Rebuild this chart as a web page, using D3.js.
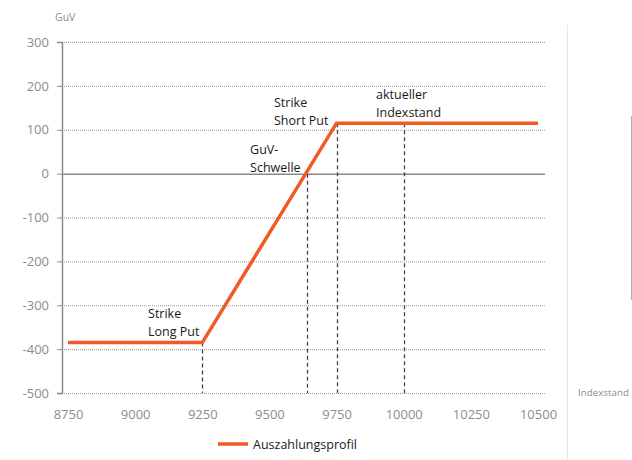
<!DOCTYPE html>
<html>
<head>
<meta charset="utf-8">
<script src="https://cdn.jsdelivr.net/npm/d3@7"></script>
<style>
  html, body { margin: 0; padding: 0; background: #fff; }
  svg { display: block; }
</style>
</head>
<body>
<svg id="chart" width="632" height="460"></svg>
<script>
// Payoff profile of a bull put spread
const profileX = [8750, 9250, 9750, 10500];
const profileY = [-385, -385, 115, 115];

const xTicks = [8750, 9000, 9250, 9500, 9750, 10000, 10250, 10500];
const yTicks = [300, 200, 100, 0, -100, -200, -300, -400, -500];

// Reference levels with dashed drop lines
const markerX = [9250, 9640, 9750, 10000];
const markerY = [-385, 0, 115, 115];

// Annotation labels (two lines each), anchored at data coordinates
const noteLines = [["Strike", "Long Put"], ["GuV-", "Schwelle"], ["Strike", "Short Put"], ["aktueller", "Indexstand"]];
const noteX = [9048, 9428, 9517, 9897];
const noteY = [-329, 44, 152, 170];

const seriesName = "Auszahlungsprofil";
const yTitle = "GuV";
const xTitle = "Indexstand";

const svg = d3.select("#chart");
const font = "'Open Sans', 'Liberation Sans', sans-serif";
const orange = "#f05a24";
const axisGrey = "#8c8c8c";
const plain = d => String(d);

const plotLeft = 62, plotRight = 545, plotTop = 42, plotBottom = 393;
const x = d3.scaleLinear().domain([8750, 10500]).range([68, 538]);
const y = d3.scaleLinear().domain([-500, 300]).range([plotBottom, plotTop]);

// Horizontal dotted gridlines
svg.append("g").selectAll("line").data(yTicks.filter(v => v !== 0)).join("line")
  .attr("x1", plotLeft).attr("x2", plotRight)
  .attr("y1", d => y(d) + 0.5).attr("y2", d => y(d) + 0.5)
  .attr("stroke", "#9a9a9a").attr("stroke-width", 1)
  .attr("stroke-dasharray", "1,1");

// Zero line (solid)
svg.append("line")
  .attr("x1", plotLeft).attr("x2", plotRight)
  .attr("y1", y(0) + 0.5).attr("y2", y(0) + 0.5)
  .attr("stroke", "#8a8a8a").attr("stroke-width", 1.5);

// Y axis
const yAxis = d3.axisLeft(y).tickValues(yTicks).tickSize(5).tickPadding(8).tickFormat(plain);
const gy = svg.append("g").attr("transform", `translate(${plotLeft},0)`).call(yAxis);
gy.select(".domain").attr("stroke", "#8a8a8a").attr("stroke-width", 1.5);
gy.selectAll(".tick line").attr("stroke", "#8a8a8a");
gy.selectAll(".tick text").attr("fill", axisGrey).attr("font-family", font).attr("font-size", 13);

// X axis labels (no axis line, below the -500 gridline)
const xAxis = d3.axisBottom(x).tickValues(xTicks).tickSize(0).tickPadding(17).tickFormat(plain);
const gx = svg.append("g").attr("transform", `translate(0,${plotBottom})`).call(xAxis);
gx.select(".domain").remove();
gx.selectAll(".tick text").attr("fill", axisGrey).attr("font-family", font).attr("font-size", 13);

// Dashed drop lines
svg.append("g").selectAll("line").data(markerX).join("line")
  .attr("x1", d => Math.round(x(d)) + 0.5).attr("x2", d => Math.round(x(d)) + 0.5)
  .attr("y1", (d, i) => y(markerY[i])).attr("y2", plotBottom)
  .attr("stroke", "#444").attr("stroke-width", 1.3)
  .attr("stroke-dasharray", "4,3");

// Payoff line
const line = d3.line().x(d => x(d[0])).y(d => y(d[1]));
svg.append("path")
  .datum(profileX.map((v, i) => [v, profileY[i]]))
  .attr("d", line)
  .attr("fill", "none").attr("stroke", orange).attr("stroke-width", 3.5)
  .attr("stroke-linejoin", "miter");

// Annotations
const notes = svg.append("g");
noteLines.forEach((lines, i) => {
  const t = notes.append("text")
    .attr("x", x(noteX[i])).attr("y", y(noteY[i]))
    .attr("font-family", font).attr("font-size", 12.5).attr("fill", "#1a1a1a");
  lines.forEach((s, j) => t.append("tspan").attr("x", x(noteX[i])).attr("dy", j === 0 ? 0 : 18).text(s));
});

// Axis titles
svg.append("text").attr("x", 55).attr("y", 21).text(yTitle)
  .attr("font-family", font).attr("font-size", 10.5).attr("fill", axisGrey);
svg.append("text").attr("x", 578).attr("y", 396).text(xTitle)
  .attr("font-family", font).attr("font-size", 9.8).attr("fill", axisGrey);

// Panel separators on the right
svg.append("line").attr("x1", 567.5).attr("x2", 567.5).attr("y1", 25).attr("y2", 460)
  .attr("stroke", "#e6e6e6").attr("stroke-width", 1);
svg.append("line").attr("x1", 631.5).attr("x2", 631.5).attr("y1", 116).attr("y2", 300)
  .attr("stroke", "#b0b0b0").attr("stroke-width", 1);

// Legend
const lg = svg.append("g").attr("transform", "translate(218,444)");
lg.append("line").attr("x1", 0).attr("x2", 30).attr("y1", 0).attr("y2", 0)
  .attr("stroke", orange).attr("stroke-width", 3.5);
lg.append("text").attr("x", 35).attr("y", 4.5).text(seriesName)
  .attr("font-family", font).attr("font-size", 12.5).attr("fill", "#1a1a1a");
</script>
</body>
</html>
